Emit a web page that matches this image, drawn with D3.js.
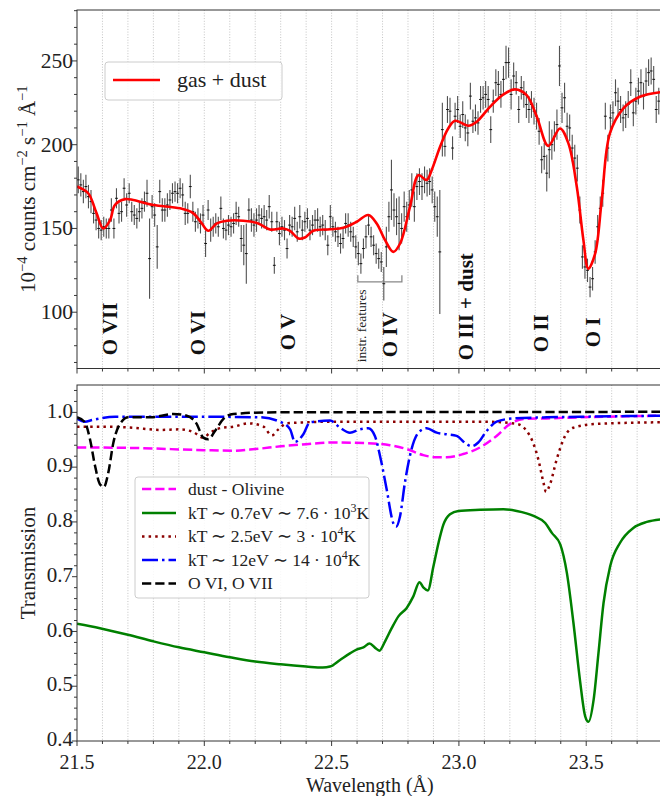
<!DOCTYPE html>
<html><head><meta charset="utf-8">
<script src="https://cdn.jsdelivr.net/npm/d3@7"></script>
<style>
body{margin:0;background:#fff;}
svg{display:block;font-family:"Liberation Serif","Times New Roman",serif;}
svg text{font-family:"Liberation Serif","Times New Roman",serif;}
</style></head><body>
<svg id="c" width="660" height="796" font-family="Liberation Serif, serif"></svg>
<script>
// ---------- DATA ----------
const dataWave = [
21.505,21.515,21.525,21.535,21.545,21.555,21.565,21.575,21.585,21.595,
21.605,21.615,21.625,21.635,21.645,21.655,21.665,21.675,21.685,21.695,
21.705,21.715,21.725,21.735,21.745,21.755,21.765,21.775,21.785,21.795,
21.805,21.815,21.825,21.835,21.845,21.855,21.865,21.875,21.885,21.895,
21.905,21.915,21.925,21.935,21.945,21.955,21.965,21.975,21.985,21.995,
22.005,22.015,22.025,22.035,22.045,22.055,22.065,22.075,22.085,22.095,
22.105,22.115,22.125,22.135,22.145,22.155,22.165,22.175,22.185,22.195,
22.205,22.215,22.225,22.235,22.245,22.255,22.265,22.275,22.285,22.295,
22.305,22.315,22.325,22.335,22.345,22.355,22.365,22.375,22.385,22.395,
22.405,22.415,22.425,22.435,22.445,22.455,22.465,22.475,22.485,22.495,
22.505,22.515,22.525,22.535,22.545,22.555,22.565,22.575,22.585,22.595,
22.605,22.615,22.625,22.635,22.645,22.655,22.665,22.675,22.685,22.695,
22.705,22.715,22.725,22.735,22.745,22.755,22.765,22.775,22.785,22.795,
22.805,22.815,22.825,22.835,22.845,22.855,22.865,22.875,22.885,22.895,
22.905,22.915,22.925,22.935,22.945,22.955,22.965,22.975,22.985,22.995,
23.005,23.015,23.025,23.035,23.045,23.055,23.065,23.075,23.085,23.095,
23.105,23.115,23.125,23.135,23.145,23.155,23.165,23.175,23.185,23.195,
23.205,23.215,23.225,23.235,23.245,23.255,23.265,23.275,23.285,23.295,
23.305,23.315,23.325,23.335,23.345,23.355,23.365,23.375,23.385,23.395,
23.405,23.415,23.425,23.435,23.445,23.455,23.465,23.475,23.485,23.495,
23.505,23.515,23.525,23.535,23.545,23.555,23.565,23.575,23.585,23.595,
23.605,23.615,23.625,23.635,23.645,23.655,23.665,23.675,23.685,23.695,
23.705,23.715,23.725,23.735,23.745,23.755,23.765,23.775,23.785];
const dataFlux = [
179,176,172,175,169,166,159,155,150,149,
151,150,150,161,150,168,159,160,174,164,
171,160,158,156,160,162,166,171,132,163,
158,139,172,161,161,164,167,171,172,171,
174,170,159,159,175,160,154,156,153,158,
141,161,149,151,153,151,162,150,149,152,
151,153,159,157,144,140,135,161,155,152,
155,158,156,157,155,163,154,128,154,147,
151,149,138,152,151,156,148,157,149,154,
156,149,152,155,155,151,152,149,140,157,
151,148,145,141,144,153,152,148,145,139,
135,129,138,145,152,145,140,135,132,130,
117,139,157,173,161,157,153,150,163,157,
164,173,163,175,178,175,179,177,178,173,
163,157,136,209,199,221,220,198,217,221,
211,218,210,207,229,214,216,213,227,228,
230,227,209,226,237,236,230,239,249,249,
230,241,237,221,234,230,224,221,224,220,
217,208,191,193,183,197,200,205,212,247,
222,228,211,210,198,192,186,161,133,127,
125,115,120,136,151,162,171,217,198,216,
219,231,226,221,216,218,224,237,219,226,
232,237,229,238,243,244,239,221,226];
const dataErr = [
8,7,7,7,7,7,6,6,6,6,
6,6,6,7,6,6,6,6,6,7,
6,6,6,6,6,6,6,8,24,7,
7,13,7,7,7,7,6,6,6,6,
6,7,7,6,7,6,6,6,6,6,
8,6,7,6,6,6,7,6,6,6,
6,6,7,6,8,12,18,7,7,7,
7,6,6,7,6,7,6,5,6,7,
6,6,6,6,6,7,6,7,6,6,
6,6,6,6,7,6,6,6,6,7,
6,6,6,6,6,6,7,6,6,7,
7,6,6,7,6,6,6,6,6,6,
10,12,9,18,10,11,16,9,9,9,
9,10,9,8,8,8,8,8,8,8,
9,12,37,16,6,8,8,7,8,8,
7,8,8,8,8,7,8,7,8,7,
8,8,8,7,8,8,8,8,10,9,
9,8,7,8,7,8,8,8,8,8,
8,8,8,8,11,17,9,9,9,12,
9,9,8,8,8,8,8,8,7,7,
7,6,7,7,7,7,8,8,8,8,
7,8,8,8,8,8,8,8,8,8,
8,8,8,8,8,8,8,8,8];

const modelWave = [21.50,21.544,21.577,21.603,21.63,21.649,21.689,21.721,21.80,21.905,21.957,21.99,22.016,22.049,22.088,22.153,22.212,22.258,22.31,22.337,22.37,22.395,22.428,22.494,22.546,22.599,22.644,22.677,22.71,22.742,22.769,22.808,22.841,22.873,22.893,22.926,22.958,22.985,23.037,23.07,23.122,23.175,23.22,23.266,23.306,23.351,23.397,23.43,23.463,23.489,23.508,23.535,23.561,23.593,23.646,23.711,23.8];
const modelFlux = [175,171,159,150,155,164,167.5,167,164,162,159,153,148.6,153,154.6,154.6,153,149.4,150,148.6,144,144.6,148.6,149.5,150.4,154,158,153,143,136,141,163,181.8,178.9,184.8,198.8,209.7,214.3,211.3,213.7,222.6,230,233,229.6,216.7,199.3,209.7,200.8,174.9,143,126,135,167,206.7,221.7,228.6,231.5];

const greenWave = [21.50,21.59,21.70,21.80,21.90,22.0,22.1,22.2,22.3,22.4,22.465,22.494,22.533,22.572,22.598,22.625,22.649,22.671,22.688,22.710,22.736,22.763,22.795,22.821,22.845,22.861,22.878,22.900,22.920,22.939,22.965,22.998,23.083,23.175,23.227,23.293,23.339,23.365,23.398,23.424,23.450,23.476,23.496,23.509,23.529,23.548,23.568,23.594,23.633,23.685,23.738,23.80];
const greenT = [0.614,0.606,0.594,0.582,0.571,0.562,0.553,0.545,0.540,0.536,0.534,0.536,0.548,0.560,0.567,0.571,0.578,0.570,0.565,0.582,0.606,0.628,0.643,0.664,0.690,0.680,0.675,0.719,0.762,0.795,0.814,0.820,0.822,0.823,0.820,0.811,0.798,0.780,0.759,0.707,0.615,0.509,0.445,0.435,0.475,0.560,0.652,0.719,0.762,0.789,0.800,0.805];

const dustWave = [21.50,21.72,22.0,22.11,22.2,22.3,22.4,22.5,22.625,22.729,22.795,22.860,22.913,22.952,23.017,23.083,23.148,23.201,23.253,23.345,23.476,23.80];
const dustT = [0.936,0.935,0.931,0.930,0.933,0.938,0.942,0.945,0.944,0.940,0.933,0.922,0.918,0.918,0.924,0.936,0.957,0.979,0.988,0.989,0.991,0.994];

const warmWave = [21.50,21.59,21.72,21.826,21.904,21.957,21.996,22.023,22.069,22.114,22.173,22.232,22.265,22.291,22.324,22.402,22.494,23.1,23.227,23.279,23.312,23.332,23.342,23.358,23.384,23.417,23.449,23.541,23.80];
const warmT = [0.974,0.974,0.972,0.968,0.969,0.964,0.954,0.963,0.972,0.974,0.980,0.974,0.958,0.969,0.980,0.982,0.983,0.983,0.979,0.957,0.914,0.872,0.855,0.869,0.914,0.957,0.972,0.979,0.982];

const hotWave = [21.50,21.531,21.56,21.65,22.0,22.219,22.297,22.337,22.356,22.389,22.415,22.494,22.533,22.572,22.612,22.644,22.670,22.690,22.716,22.742,22.753,22.769,22.788,22.814,22.841,22.873,22.913,22.952,22.991,23.030,23.050,23.076,23.109,23.148,23.214,23.345,23.476,23.80];
const hotT = [0.989,0.983,0.986,0.992,0.992,0.991,0.983,0.969,0.946,0.960,0.982,0.985,0.972,0.963,0.969,0.971,0.957,0.921,0.860,0.798,0.791,0.811,0.872,0.933,0.963,0.971,0.963,0.960,0.957,0.942,0.938,0.945,0.966,0.983,0.989,0.991,0.992,0.994];

const ionWave = [21.50,21.531,21.551,21.571,21.590,21.606,21.623,21.643,21.669,21.702,21.787,21.878,21.931,21.970,21.996,22.016,22.042,22.075,22.114,22.245,23.80];
const ionT = [0.991,0.982,0.951,0.902,0.869,0.864,0.890,0.945,0.979,0.991,0.991,0.997,0.994,0.979,0.954,0.951,0.966,0.988,0.997,1.0,1.001];

const xMajorTicks = [21.5,22.0,22.5,23.0,23.5];
const yTopTicks = [100,150,200,250];
const yBotTicks = [0.4,0.5,0.6,0.7,0.8,0.9,1.0];

const ionLabels = ["O VII","O VI","O V","O IV","O III + dust","O II","O I"];
const ionLabelWave = [21.63,21.975,22.329,22.73,23.028,23.322,23.527];
const ionLabelFlux = [74.3,74.3,77.3,73.1,71.3,76.1,79.1];

// ---------- LAYOUT ----------
const FF = "Liberation Serif, Times New Roman, serif";
const svg = d3.select("#c");
const L = 77, R = 662.6;
const topP = {t:10, b:368.5};
const botP = {t:385, b:741};
const x = d3.scaleLinear().domain([21.5,23.8]).range([L,R]);
const yT = d3.scaleLinear().domain([66.4,280.4]).range([topP.b, topP.t]);
const yB = d3.scaleLinear().domain([0.4,1.05]).range([botP.b, botP.t]);
const xMinor = d3.range(21.6,23.75,0.1).filter(v=>Math.abs(v*2-Math.round(v*2))>0.01);
const xGrid = d3.range(21.6,23.75,0.1);
const yTMinor = d3.range(70,281,10).filter(v=>v%50!==0);
const yBMinor = d3.range(0.42,1.05,0.02).filter(v=>Math.abs(v*10-Math.round(v*10))>0.01);

const ink = "#222";

function panelGrid(top,bot){
  svg.append("g").selectAll("line").data(xGrid).join("line")
    .attr("x1",d=>x(d)).attr("x2",d=>x(d)).attr("y1",top).attr("y2",bot)
    .attr("stroke","#b5b5b5").attr("stroke-width",0.8).attr("stroke-dasharray","1,1.7");
}
panelGrid(topP.t, topP.b);
panelGrid(botP.t, botP.b);

const defs = svg.append("defs");
defs.append("clipPath").attr("id","ct").append("rect").attr("x",L).attr("y",topP.t).attr("width",R-L).attr("height",topP.b-topP.t);
defs.append("clipPath").attr("id","cb").append("rect").attr("x",L).attr("y",botP.t).attr("width",R-L).attr("height",botP.b-botP.t);

// ---------- TOP PANEL ----------
const gT = svg.append("g").attr("clip-path","url(#ct)");
const pts = dataWave.map((w,i)=>({w, f:dataFlux[i], e:dataErr[i]}));
gT.append("g").selectAll("line").data(pts).join("line")
  .attr("x1",d=>x(d.w)).attr("x2",d=>x(d.w))
  .attr("y1",d=>yT(d.f-d.e)).attr("y2",d=>yT(d.f+d.e))
  .attr("stroke","#333").attr("stroke-width",1.1).attr("opacity",0.85);
gT.append("g").selectAll("line").data(pts).join("line")
  .attr("x1",d=>x(d.w)-1.4).attr("x2",d=>x(d.w)+1.4)
  .attr("y1",d=>yT(d.f)).attr("y2",d=>yT(d.f))
  .attr("stroke","#111").attr("stroke-width",1);

const lineT = d3.line().x(d=>x(d[0])).y(d=>yT(d[1])).curve(d3.curveCatmullRom.alpha(0.5));
gT.append("path").datum(modelWave.map((w,i)=>[w,modelFlux[i]]))
  .attr("d",lineT).attr("fill","none").attr("stroke","#ff0000").attr("stroke-width",2.6);

ionLabels.forEach((t,i)=>{
  svg.append("text").attr("transform",`translate(${x(ionLabelWave[i])},${yT(ionLabelFlux[i])}) rotate(-90)`)
    .attr("dy","0.33em").attr("font-family",FF).attr("font-size",21).attr("font-weight","bold").attr("fill","#111").text(t);
});
svg.append("text").attr("transform",`translate(${x(22.62)},${yT(70.1)}) rotate(-90)`)
  .attr("dy","0.3em").attr("font-family",FF).attr("font-size",13.5).attr("fill","#222").text("instr. features");
svg.append("path")
  .attr("d",`M${x(22.603)},${yT(122.1)}V${yT(118.1)}H${x(22.776)}V${yT(122.1)}`)
  .attr("fill","none").attr("stroke","#888").attr("stroke-width",1.3);

svg.append("rect").attr("x",105).attr("y",62).attr("width",177).attr("height",38).attr("rx",3)
  .attr("fill","#fff").attr("fill-opacity",0.85).attr("stroke","#ccc");
svg.append("line").attr("x1",113).attr("x2",160).attr("y1",80).attr("y2",80).attr("stroke","#ff0000").attr("stroke-width",2.6);
svg.append("text").attr("x",177).attr("y",87).attr("font-family",FF).attr("font-size",22).attr("fill",ink).text("gas + dust");

// ---------- BOTTOM PANEL ----------
const gB = svg.append("g").attr("clip-path","url(#cb)");
const lineB = d3.line().x(d=>x(d[0])).y(d=>yB(d[1])).curve(d3.curveMonotoneX);
const series = [
  {w:greenWave,t:greenT,c:"#008000",dash:null},
  {w:dustWave,t:dustT,c:"#ff00ff",dash:"9.25,4"},
  {w:warmWave,t:warmT,c:"#8b0000",dash:"2.5,4.1"},
  {w:hotWave,t:hotT,c:"#0000ff",dash:"16,4,2.5,4"},
  {w:ionWave,t:ionT,c:"#000000",dash:"9.25,4"}
];
series.forEach(s=>{
  gB.append("path").datum(s.w.map((w,i)=>[w,s.t[i]])).attr("d",lineB)
    .attr("fill","none").attr("stroke",s.c).attr("stroke-width",2.5)
    .attr("stroke-dasharray",s.dash);
});

svg.append("rect").attr("x",135).attr("y",477).attr("width",234).attr("height",121).attr("rx",3)
  .attr("fill","#fff").attr("fill-opacity",0.85).attr("stroke","#ccc");
const legOrder = [
  {c:"#ff00ff",dash:"9.25,4"},
  {c:"#008000",dash:null},
  {c:"#8b0000",dash:"2.5,4.1"},
  {c:"#0000ff",dash:"16,4,2.5,4"},
  {c:"#000000",dash:"9.25,4"}
];
const legRowY = [489,513,536.5,560,583.5];
legOrder.forEach((s,i)=>{
  svg.append("line").attr("x1",142).attr("x2",176).attr("y1",legRowY[i]).attr("y2",legRowY[i])
    .attr("stroke",s.c).attr("stroke-width",2.5).attr("stroke-dasharray",s.dash);
});
function legText(i, parts){
  const t = svg.append("text").attr("x",188).attr("y",legRowY[i]+5.5).attr("font-family",FF).attr("font-size",17.5).attr("fill",ink);
  parts.forEach(p=>{
    const ts = t.append("tspan").text(p[0]);
    if(p[1]) ts.attr("baseline-shift","super").attr("font-size",12);
  });
}
legText(0,[["dust - Olivine"]]);
legText(1,[["kT \u223C 0.7eV \u223C 7.6 \u00B7 10"],["3",1],["K"]]);
legText(2,[["kT \u223C 2.5eV \u223C 3 \u00B7 10"],["4",1],["K"]]);
legText(3,[["kT \u223C 12eV \u223C 14 \u00B7 10"],["4",1],["K"]]);
legText(4,[["O VI, O VII"]]);

// ---------- AXES ----------
function tickLines(g, vals, len, orient){
  g.append("g").selectAll("line").data(vals).join("line").each(function(d){
    const l = d3.select(this);
    if(orient.axis==="x"){ l.attr("x1",x(d)).attr("x2",x(d)).attr("y1",orient.y).attr("y2",orient.y+len); }
    else { l.attr("y1",orient.s(d)).attr("y2",orient.s(d)).attr("x1",L).attr("x2",L-len); }
  }).attr("stroke",ink).attr("stroke-width",0.9);
}
const axG = svg.append("g");
tickLines(axG, xMajorTicks, 5, {axis:"x", y:topP.b});
tickLines(axG, xMinor, 3, {axis:"x", y:topP.b});
tickLines(axG, xMajorTicks, 5, {axis:"x", y:botP.b});
tickLines(axG, xMinor, 3, {axis:"x", y:botP.b});
tickLines(axG, yTopTicks, 5, {axis:"y", s:yT});
tickLines(axG, yTMinor, 3, {axis:"y", s:yT});
tickLines(axG, yBotTicks, 5, {axis:"y", s:yB});
tickLines(axG, yBMinor, 3, {axis:"y", s:yB});

axG.append("g").selectAll("text").data(xMajorTicks).join("text")
  .attr("x",d=>x(d)).attr("y",769).attr("text-anchor","middle").attr("font-family",FF).attr("font-size",20).attr("fill",ink)
  .text(d3.format(".1f"));
axG.append("g").selectAll("text").data(yTopTicks).join("text")
  .attr("x",73).attr("y",d=>yT(d)).attr("dy","0.32em").attr("text-anchor","end").attr("font-family",FF).attr("font-size",21.5).attr("fill",ink)
  .text(d=>d);
axG.append("g").selectAll("text").data(yBotTicks).join("text")
  .attr("x",73).attr("y",d=>yB(d)).attr("dy","0.25em").attr("text-anchor","end").attr("font-family",FF).attr("font-size",21).attr("fill",ink)
  .text(d3.format(".1f"));

[[topP.t,topP.b],[botP.t,botP.b]].forEach(([t,b])=>{
  svg.append("rect").attr("x",L).attr("y",t).attr("width",R-L).attr("height",b-t)
    .attr("fill","none").attr("stroke","#333").attr("stroke-width",1);
});

svg.append("text").attr("x",(L+R)/2).attr("y",791.5).attr("text-anchor","middle").attr("font-family",FF).attr("font-size",20).attr("fill",ink)
  .text("Wavelength (\u00C5)");
svg.append("text").attr("transform",`translate(35,${(botP.t+botP.b)/2}) rotate(-90)`).attr("text-anchor","middle")
  .attr("font-family",FF).attr("font-size",21).attr("fill",ink).text("Transmission");
const yl = svg.append("text").attr("transform",`translate(35,${(topP.t+topP.b)/2}) rotate(-90)`).attr("text-anchor","middle")
  .attr("font-family",FF).attr("font-size",21).attr("fill",ink);
[["10"],["\u22124",1],[" counts cm"],["\u22122",1],[" s"],["\u22121",1],[" \u00C5"],["\u22121",1]].forEach(p=>{
  const ts = yl.append("tspan").text(p[0]);
  if(p[1]) ts.attr("baseline-shift","super").attr("font-size",14.5);
});
</script>
</body></html>
